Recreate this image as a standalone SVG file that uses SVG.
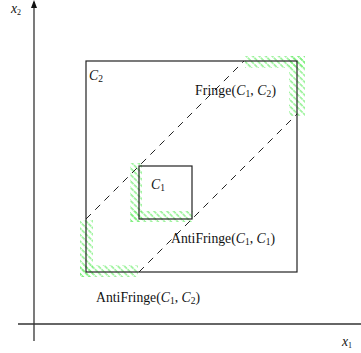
<svg xmlns="http://www.w3.org/2000/svg" width="361" height="353" viewBox="0 0 361 353">
<style>
.box{fill:none;stroke:#222;stroke-width:1.2}
.axis{fill:none;stroke:#333;stroke-width:1.3}
.dash{fill:none;stroke:#222;stroke-width:1;stroke-dasharray:7 6}
.lbl{font-family:"Liberation Serif","Times New Roman",serif;font-size:13.7px;fill:#111}
.it{font-style:italic}
.sub{font-size:9.5px;font-style:normal}
.hatch{fill:url(#hatch);stroke:none}
</style>
<defs>
<pattern id="hatch" width="4.6" height="4.6" patternUnits="userSpaceOnUse" patternTransform="rotate(-45)">
<line x1="1" y1="0" x2="1" y2="3.8" stroke="#72ee72" stroke-width="1.2"/>
</pattern>
</defs>
<g id="axes">
<line class="axis" x1="34" y1="341" x2="34" y2="2"/>
<path d="M31,8 L34,0 L37,8 Z" fill="#111"/>
<line class="axis" x1="18" y1="324" x2="361" y2="324"/>
<text class="lbl it" x="11" y="13" font-size="11">x<tspan font-size="8" dy="2" font-style="normal">2</tspan></text>
<text class="lbl it" x="342" y="346" font-size="11">x<tspan font-size="8" dy="2" font-style="normal">1</tspan></text>
</g>
<g id="fringe-hatch">
<rect class="hatch" x="245" y="56" width="60" height="12"/>
<rect class="hatch" x="289" y="56" width="16" height="60"/>
</g>
<g id="c1-hatch">
<rect class="hatch" x="130" y="163" width="12" height="59"/>
<rect class="hatch" x="130" y="211" width="63" height="11"/>
</g>
<g id="antifringe-hatch">
<rect class="hatch" x="80" y="220" width="13" height="57"/>
<rect class="hatch" x="80" y="265" width="58" height="12"/>
</g>
<g id="connectors">
<line class="dash" x1="86" y1="219" x2="244" y2="61"/>
<line class="dash" x1="139" y1="272" x2="297" y2="114"/>
</g>
<g id="C2">
<rect class="box" x="86" y="61" width="211" height="211"/>
<text class="lbl it" x="89" y="80">C<tspan class="sub" dy="2">2</tspan></text>
</g>
<g id="C1">
<rect class="box" x="139" y="166" width="53" height="53"/>
<text class="lbl it" x="151" y="189">C<tspan class="sub" dy="2">1</tspan></text>
</g>
<g id="labels">
<text class="lbl" x="195" y="95" textLength="81" lengthAdjust="spacing">Fringe(<tspan class="it">C</tspan><tspan class="sub" dy="2">1</tspan><tspan dy="-2">, </tspan><tspan class="it">C</tspan><tspan class="sub" dy="2">2</tspan><tspan dy="-2">)</tspan></text>
<text class="lbl" x="171" y="243" textLength="104" lengthAdjust="spacing">AntiFringe(<tspan class="it">C</tspan><tspan class="sub" dy="2">1</tspan><tspan dy="-2">, </tspan><tspan class="it">C</tspan><tspan class="sub" dy="2">1</tspan><tspan dy="-2">)</tspan></text>
<text class="lbl" x="96" y="302" textLength="104" lengthAdjust="spacing">AntiFringe(<tspan class="it">C</tspan><tspan class="sub" dy="2">1</tspan><tspan dy="-2">, </tspan><tspan class="it">C</tspan><tspan class="sub" dy="2">2</tspan><tspan dy="-2">)</tspan></text>
</g>
</svg>
